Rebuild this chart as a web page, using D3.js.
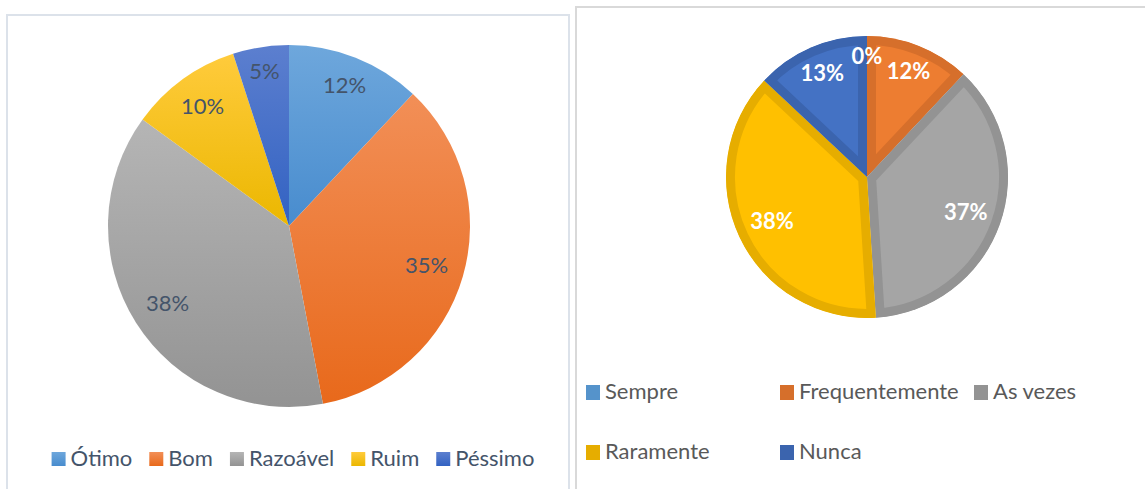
<!DOCTYPE html>
<html>
<head>
<meta charset="utf-8">
<script src="https://cdn.jsdelivr.net/npm/d3@7"></script>
<style>
  body { margin: 0; background: #fff; }
  text { font-family: Lato, "Open Sans", sans-serif; }
</style>
</head>
<body>
<div id="graph"></div>
<script>
'use strict';

// left chart: avaliação
const leftCategories = ["Ótimo", "Bom", "Razoável", "Ruim", "Péssimo"];
const leftValues = [12, 35, 38, 10, 5];
const leftTop = ["#6EA7DC", "#F28F57", "#B5B5B5", "#FFCB3C", "#5C7FCF"];
const leftBottom = ["#488CCE", "#E8691B", "#939393", "#EBB700", "#3262C2"];

// right chart: frequência
const rightCategories = ["Sempre", "Frequentemente", "As vezes", "Raramente", "Nunca"];
const rightValues = [0, 12, 37, 38, 13];
const rightFill = ["#5B9BD5", "#ED7D31", "#A5A5A5", "#FFC000", "#4472C4"];
const rightBorder = ["#5593CB", "#D66F2B", "#939393", "#E6AD00", "#3B64AE"];

(function() {

  let svgContainer = d3.select('#graph')
    .append('svg')
    .attr('width', 1145)
    .attr('height', 489);
  let defs = svgContainer.append('defs');

  // chart frames
  svgContainer.append('rect')
    .attr('x', 7).attr('y', 15)
    .attr('width', 562).attr('height', 490)
    .style('fill', 'none')
    .style('stroke', '#DCE2EA')
    .style('stroke-width', 2);
  svgContainer.append('rect')
    .attr('x', 576).attr('y', 7)
    .attr('width', 600).attr('height', 500)
    .style('fill', 'none')
    .style('stroke', '#D9D9D9')
    .style('stroke-width', 2);

  // gradients for the left chart
  leftCategories.forEach(function(c, i) {
    let g = defs.append('linearGradient')
      .attr('id', 'grad' + i)
      .attr('x1', 0).attr('y1', 0).attr('x2', 0).attr('y2', 1);
    g.append('stop').attr('offset', '0%').attr('stop-color', leftTop[i]);
    g.append('stop').attr('offset', '100%').attr('stop-color', leftBottom[i]);
  });

  let pie = d3.pie().sort(null).value(function(d) { return d; });

  // put a label at the inside end of its slice
  function placeLabel(text, d, radius, pad) {
    let w = text.node().getComputedTextLength();
    let h = parseFloat(text.style('font-size')) * 0.68;
    let a = (d.startAngle + d.endAngle) / 2;
    let ux = Math.sin(a), uy = -Math.cos(a);
    let support = Math.abs(ux) * w / 2 + Math.abs(uy) * h / 2;
    let r = radius - pad - support;
    text.attr('x', ux * r).attr('y', uy * r + h / 2);
  }

  // ---------- left pie ----------
  function makeLeftPie() {
    let R = 181;
    let g = svgContainer.append('g').attr('transform', 'translate(289, 226)');
    let arc = d3.arc().innerRadius(0).outerRadius(R);
    let arcs = pie(leftValues);

    g.selectAll('.slice')
      .data(arcs)
      .enter()
      .append('path')
        .attr('class', 'slice')
        .attr('d', arc)
        .style('fill', function(d, i) { return 'url(#grad' + i + ')'; });

    g.selectAll('.lbl')
      .data(arcs)
      .enter()
      .append('text')
        .attr('class', 'lbl')
        .attr('text-anchor', 'middle')
        .style('font-size', '22px')
        .style('fill', '#44546A')
        .text(function(d) { return d.data + '%'; })
        .each(function(d) { placeLabel(d3.select(this), d, R, 15); });

    // legend, one row centred under the pie
    let lg = svgContainer.append('g');
    let x = 0;
    leftCategories.forEach(function(c, i) {
      lg.append('rect')
        .attr('x', x).attr('y', 452)
        .attr('width', 14).attr('height', 14)
        .style('fill', 'url(#grad' + i + ')');
      let t = lg.append('text')
        .attr('x', x + 19).attr('y', 466)
        .style('font-size', '22px')
        .style('fill', '#44546A')
        .text(c);
      x += 19 + t.node().getComputedTextLength() + 17;
    });
    let total = x - 17;
    lg.attr('transform', 'translate(' + (293 - total / 2) + ', 0)');
  }

  // ---------- right pie ----------
  function makeRightPie() {
    let R = 141;
    let g = svgContainer.append('g').attr('transform', 'translate(867, 177)');
    let arc = d3.arc().innerRadius(0).outerRadius(R);
    let arcs = pie(rightValues);

    arcs.forEach(function(d, i) {
      defs.append('clipPath')
        .attr('id', 'clip' + i)
        .append('path')
          .attr('d', arc(d));
    });

    g.selectAll('.slice')
      .data(arcs)
      .enter()
      .append('path')
        .attr('class', 'slice')
        .attr('d', arc)
        .attr('clip-path', function(d, i) { return 'url(#clip' + i + ')'; })
        .style('fill', function(d, i) { return rightFill[i]; })
        .style('stroke', function(d, i) { return rightBorder[i]; })
        .style('stroke-width', 18)
        .style('stroke-linejoin', 'miter');

    g.selectAll('.lbl')
      .data(arcs)
      .enter()
      .append('text')
        .attr('class', 'lbl')
        .attr('text-anchor', 'middle')
        .style('font-size', '22px')
        .style('font-weight', 'bold')
        .style('fill', '#FFFFFF')
        .text(function(d) { return d.data + '%'; })
        .each(function(d) { placeLabel(d3.select(this), d, R, 13); });

    // legend in a 3 column grid
    let colX = d3.scaleLinear().domain([0, 1]).range([586, 780]);
    let rowY = d3.scaleLinear().domain([0, 1]).range([385, 445]);
    rightCategories.forEach(function(c, i) {
      let col = i % 3, row = Math.floor(i / 3);
      svgContainer.append('rect')
        .attr('x', colX(col)).attr('y', rowY(row))
        .attr('width', 14).attr('height', 15)
        .style('fill', rightBorder[i]);
      svgContainer.append('text')
        .attr('x', colX(col) + 19).attr('y', rowY(row) + 14)
        .style('font-size', '22px')
        .style('fill', '#595959')
        .text(c);
    });
  }

  makeLeftPie();
  makeRightPie();

})();
</script>
</body>
</html>
